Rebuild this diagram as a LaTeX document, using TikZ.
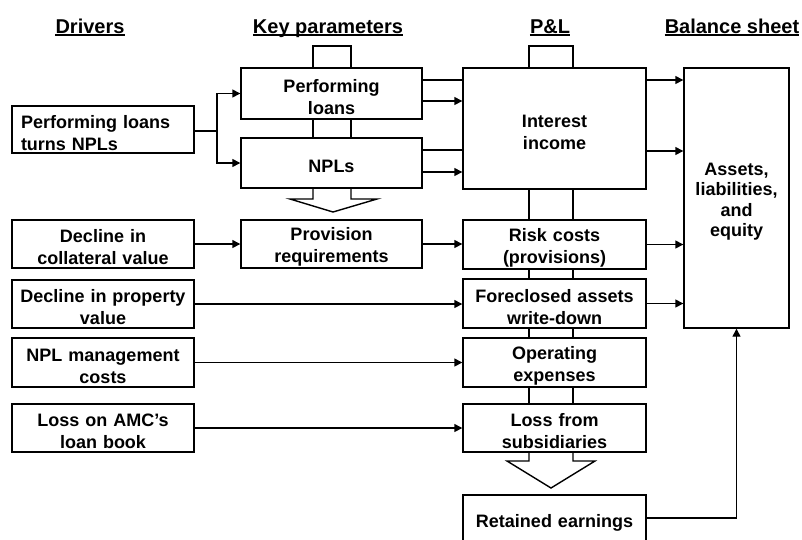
\documentclass[tikz,border=0pt]{standalone}
\usepackage{fontspec}
\setmainfont{Liberation Sans}
\usetikzlibrary{arrows.meta}
\begin{document}
\begin{tikzpicture}[x=1pt,y=-1pt,
  lw/.style={line width=1.4pt},
  box/.style={draw, lw, inner sep=0pt, align=center, font=\fontsize{18}{22}\selectfont\bfseries,
    execute at begin node={\rule{0pt}{19.5pt}}},
  dbox/.style={box, minimum width=182pt, text width=182pt},
  kbox/.style={box, minimum width=181pt, text width=181pt},
  pbox/.style={box, minimum width=183pt, text width=183pt},
  hdr/.style={inner sep=0pt, anchor=base, font=\fontsize{20}{22}\selectfont\bfseries},
  arr/.style={lw, -{Triangle[length=8pt,width=8pt]}},
  con/.style={lw}]
\clip (0,0) rectangle (802,539);
\fill[white] (0,0) rectangle (802,539);
% headers
\node[hdr] (h1) at (90,33) {Drivers};
\node[hdr] (h2) at (328,33) {Key parameters};
\node[hdr] (h3) at (550,33) {P\&L};
\node[hdr] (h4) at (732,33) {Balance sheet};
\foreach \h in {h1,h2,h3,h4}{
  \draw[line width=1.1pt] ([yshift=-2pt]\h.base west) -- ([yshift=-2pt]\h.base east);}
% drivers
\node[box, minimum width=182pt, minimum height=47pt, text width=164pt, align=left] (d1) at (103,129.5) {Performing loans\\turns NPLs};
\node[dbox, minimum height=48pt] (d2) at (103,244) {Decline in\\collateral value};
\node[dbox, minimum height=48pt] (d3) at (103,304) {Decline in property\\value};
\node[dbox, minimum height=49pt] (d4) at (103,362.5) {NPL management\\costs};
\node[dbox, minimum height=48pt] (d5) at (103,428) {Loss on AMC’s\\loan book};
% key parameters
\node[kbox, minimum height=51pt] (k1) at (331.5,93.5) {Performing\\loans};
\node[kbox, minimum height=50pt] (k2) at (331.5,163) {NPLs};
\node[kbox, minimum height=48pt] (k3) at (331.5,244) {Provision\\requirements};
% P&L
\node[pbox, minimum height=121pt] (p1) at (554.5,128.5) {Interest\\income};
\node[pbox, minimum height=49pt] (p2) at (554.5,244.5) {Risk costs\\(provisions)};
\node[pbox, minimum height=49pt] (p3) at (554.5,303.5) {Foreclosed assets\\write-down};
\node[pbox, minimum height=49pt] (p4) at (554.5,362.5) {Operating\\expenses};
\node[pbox, minimum height=48pt] (p5) at (554.5,428) {Loss from\\subsidiaries};
\node[pbox, minimum height=50pt] (p6) at (554.5,520) {Retained earnings};
% balance sheet
\node[box, minimum width=105pt, text width=105pt, minimum height=260pt, font=\fontsize{18}{20.5}\selectfont\bfseries] (b1) at (736.5,198) {Assets,\\liabilities,\\and\\equity};
% pipes and loops
\draw[con] (313,68) -- (313,46) -- (351,46) -- (351,68);
\draw[con] (529,68) -- (529,46) -- (573,46) -- (573,68);
\draw[con] (313,119) -- (313,138) (351,119) -- (351,138);
\draw[con] (313,188) -- (313,199) -- (290,199) -- (333,212) -- (377,199) -- (351,199) -- (351,188);
\draw[con] (529,189) -- (529,220) (573,189) -- (573,220);
\draw[con] (529,269) -- (529,279) (573,269) -- (573,279);
\draw[con] (529,328) -- (529,338) (573,328) -- (573,338);
\draw[con] (529,387) -- (529,404) (573,387) -- (573,404);
\draw[con] (529,452) -- (529,461) -- (507,461) -- (551,488) -- (595,461) -- (573,461) -- (573,452);
% connectors
\coordinate (j) at (217,131);
\draw[con] (d1.east |- j) -- (j);
\draw[arr] (j) |- (k1.west);
\draw[arr] (j) |- (k2.west);
\draw[con] ([yshift=13.5pt]k1.east) -- ([yshift=13.5pt]k1.east -| p1.west);
\draw[arr] ([yshift=-7.5pt]k1.east) -- ([yshift=-7.5pt]k1.east -| p1.west);
\draw[con] ([yshift=13pt]k2.east) -- ([yshift=13pt]k2.east -| p1.west);
\draw[arr] ([yshift=-9pt]k2.east) -- ([yshift=-9pt]k2.east -| p1.west);
\draw[arr] ([yshift=48.5pt]p1.east) -- ([yshift=48.5pt]p1.east -| b1.west);
\draw[arr] ([yshift=-22.5pt]p1.east) -- ([yshift=-22.5pt]p1.east -| b1.west);
\draw[arr] (d2.east) -- (k3.west);
\draw[arr] (k3.east) -- (k3.east -| p2.west);
\draw[arr] (p2.east) -- (p2.east -| b1.west);
\draw[arr] (d3.east) -- (d3.east -| p3.west);
\draw[arr] (p3.east) -- (p3.east -| b1.west);
\draw[arr] (d4.east) -- (d4.east -| p4.west);
\draw[arr] (d5.east) -- (d5.east -| p5.west);
\draw[arr] ([yshift=2pt]p6.east) -| (b1.south);
\end{tikzpicture}
\end{document}
